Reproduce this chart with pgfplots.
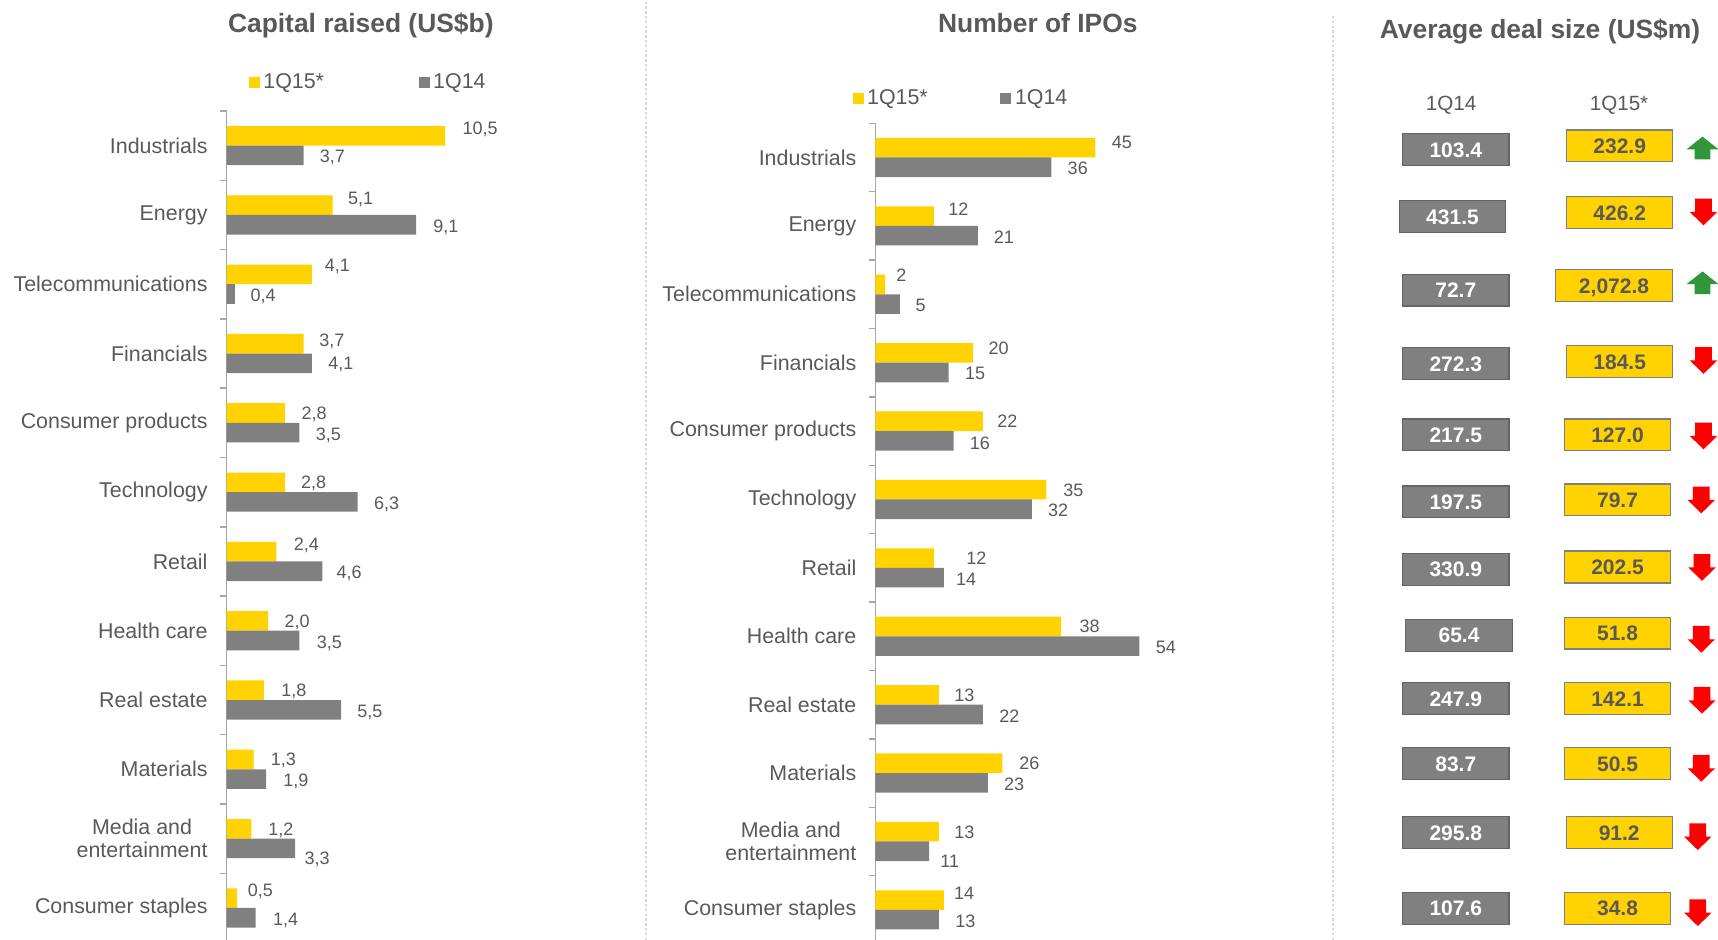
\documentclass[border=0pt]{standalone}
\usepackage{fontspec}
\setmainfont{Liberation Sans}
\usepackage{pgfplots}
\pgfplotsset{compat=1.18}
\usepackage{pgfplotstable}

\definecolor{eyyellow}{RGB}{255,210,0}
\definecolor{eygray}{RGB}{128,128,128}
\definecolor{eygraydark}{RGB}{100,100,100}
\definecolor{eytext}{RGB}{89,89,89}
\definecolor{eyaxis}{RGB}{166,166,166}
\definecolor{eysep}{RGB}{215,215,215}
\definecolor{eygreen}{RGB}{48,150,60}
\definecolor{eyred}{RGB}{255,0,0}

\pgfdeclareplotmark{eydown}{%
 \pgfpathmoveto{\pgfqpoint{-4.2pt}{6.67pt}}%
 \pgfpathlineto{\pgfqpoint{4.2pt}{6.67pt}}%
 \pgfpathlineto{\pgfqpoint{4.2pt}{0pt}}%
 \pgfpathlineto{\pgfqpoint{6.83pt}{0pt}}%
 \pgfpathlineto{\pgfqpoint{0pt}{-6.67pt}}%
 \pgfpathlineto{\pgfqpoint{-6.83pt}{0pt}}%
 \pgfpathlineto{\pgfqpoint{-4.2pt}{0pt}}%
 \pgfpathclose
 \pgfusepathqfill}
\pgfdeclareplotmark{eyup}{%
 \pgfpathmoveto{\pgfqpoint{-3.9pt}{-5.67pt}}%
 \pgfpathlineto{\pgfqpoint{3.9pt}{-5.67pt}}%
 \pgfpathlineto{\pgfqpoint{3.9pt}{-0.67pt}}%
 \pgfpathlineto{\pgfqpoint{8pt}{-0.67pt}}%
 \pgfpathlineto{\pgfqpoint{0pt}{5.67pt}}%
 \pgfpathlineto{\pgfqpoint{-8pt}{-0.67pt}}%
 \pgfpathlineto{\pgfqpoint{-3.9pt}{-0.67pt}}%
 \pgfpathclose
 \pgfusepathqfill}

% Capital raised (US$b): v15 = 1Q15*, v14 = 1Q14; s = label shift (px), g = label gap (px)
\pgfplotstableread{
idx v15 v14 s15 s14 g15 g14
11 10.5 3.7 7.8 -0.3 17 16
10 5.1 9.1 6.7 -1.3 15 17
9 4.1 0.4 9.5 -1.3 12.5 15.5
8 3.7 4.1 4 0 15.5 16
7 2.8 3.5 0 -1.5 16.5 16
6 2.8 6.3 0 -1 16 16
5 2.4 4.6 7.5 -0.5 17 14
4 2.0 3.5 0 -1.3 16 17
3 1.8 5.5 0 -1 17 16
2 1.3 1.9 0 -1.2 17 17
1 1.2 3.3 0 -9.3 16.5 9
0 0.5 1.4 7.7 -1.3 10.5 17
}\capdata

% Number of IPOs
\pgfplotstableread{
idx v15 v14 s15 s14 g15 g14
11 45 36 6 -1 16 16
10 12 21 7 -1.3 14 15.5
9 2 5 9.7 -1 11 15.5
8 20 15 4.7 -1 15 16
7 22 16 0 -1.7 14 16
6 35 32 0 -1 16.5 16
5 12 14 0 -1.3 32 12
4 38 54 0 -1.3 18 16
3 13 22 0 -1.7 15 16
2 26 23 0 -1.5 16.5 16
1 13 11 0 -10 15 11
0 14 13 7 -1.5 10 16
}\ipodata

% Average deal size (US$m): box centres in px
\pgfplotstableread{
gx gy gl yx yy yl yw
1455.8 149.8 103.4 1619.7 146.0 232.9 53
1452.5 216.8 431.5 1619.7 212.7 426.2 53
1455.8 290.2 72.7 1614.0 285.8 2,072.8 58.65
1455.8 363.8 272.3 1619.7 361.7 184.5 53
1455.8 435.0 217.5 1617.5 435.0 127.0 53
1455.8 502.0 197.5 1617.5 500.0 79.7 53
1455.8 569.3 330.9 1617.5 567.0 202.5 53
1459.0 635.3 65.4 1617.5 633.0 51.8 53
1455.8 698.7 247.9 1617.5 698.7 142.1 53
1455.8 763.7 83.7 1617.5 763.7 50.5 53
1455.8 832.7 295.8 1619.2 832.7 91.2 53
1455.8 908.3 107.6 1617.5 908.3 34.8 53
}\dealdata

\pgfplotstableread{
ax ay
1702.5 148.0
1702.5 282.8
}\uparrows

\pgfplotstableread{
ax ay
1703.5 212.0
1703.5 360.5
1703.5 436.0
1701.3 500.0
1702.0 567.5
1701.3 639.3
1702.0 700.3
1701.3 768.3
1697.8 836.7
1697.8 912.7
}\downarrows

\pgfplotsset{
 eybar/.style={
  scale only axis, clip=false,
  axis y line*=left, axis x line=none,
  xtick=\empty,
  xmin=0, ymin=-0.5, ymax=11.5,
  ytick={0,...,11},
  yticklabels={Consumer staples,{Media and\\entertainment},Materials,Real estate,Health care,Retail,Technology,Consumer products,Financials,Telecommunications,Energy,Industrials},
  minor ytick={-0.5,0.5,...,11.5},
  major tick length=0pt, minor tick length=3pt, tick align=outside,
  tick style={eyaxis, line width=0.75pt},
  axis line style={eyaxis, line width=0.75pt},
  yticklabel style={anchor=east, inner sep=0pt, xshift=-9.3pt, align=center,
    font=\fontsize{10.7}{11.7}\selectfont, text=eytext},
  xbar, bar width=9.8pt,
  legend columns=2,
  legend image code/.code={\fill (0pt,-2.75pt) rectangle (5.5pt,2.75pt);},
  legend style={draw=none, fill=none, inner sep=0pt, anchor=west,
    font=\fontsize{10.7}{12}\selectfont, text=eytext, nodes={inner sep=1.8pt}},
  legend cell align=left,
  point meta=x,
  every node near coord/.append style={anchor=base west, inner sep=0pt,
    font=\fontsize{9}{10}\selectfont, text=eytext,
    xshift=\gap*0.5pt, yshift=\shy*0.5pt-3.22pt},
 }
}

\begin{document}
\begin{tikzpicture}
% separators
\draw[eysep, line width=0.6pt, dash pattern=on 1.2pt off 1.2pt] (323pt,0pt) -- (323pt,470pt);
\draw[eysep, line width=0.6pt, dash pattern=on 1.2pt off 1.2pt] (666.5pt,0pt) -- (666.5pt,463pt);

% ---- Capital raised ----
\begin{axis}[eybar, at={(113.25pt,-1.3pt)}, anchor=south west,
  width=145.8pt, height=415.8pt, xmax=14,
  nodes near coords={\pgfmathprintnumber[fixed,fixed zerofill,precision=1,use comma,assume math mode=true]{\pgfplotspointmeta}},
  legend style={at={(0.075,1.0337)}, /tikz/every even column/.append style={column sep=45.5pt}}]
\addplot[fill=eyyellow, draw=none, bar shift=4.9pt,
  visualization depends on={\thisrow{s15}\as\shy},
  visualization depends on={\thisrow{g15}\as\gap}] table[x=v15,y=idx]{\capdata};
\addplot[fill=eygray, draw=none, bar shift=-4.9pt,
  visualization depends on={\thisrow{s14}\as\shy},
  visualization depends on={\thisrow{g14}\as\gap}] table[x=v14,y=idx]{\capdata};
\legend{1Q15*,1Q14}
\end{axis}

% ---- Number of IPOs ----
\begin{axis}[eybar, at={(437.65pt,-2.05pt)}, anchor=south west,
  width=146.7pt, height=410.4pt, xmax=60,
  nodes near coords={\pgfmathprintnumber[fixed,precision=0,assume math mode=true]{\pgfplotspointmeta}},
  legend style={at={(-0.079,1.0296)}, /tikz/every even column/.append style={column sep=34.5pt}}]
\addplot[fill=eyyellow, draw=none, bar shift=4.9pt,
  visualization depends on={\thisrow{s15}\as\shy},
  visualization depends on={\thisrow{g15}\as\gap}] table[x=v15,y=idx]{\ipodata};
\addplot[fill=eygray, draw=none, bar shift=-4.9pt,
  visualization depends on={\thisrow{s14}\as\shy},
  visualization depends on={\thisrow{g14}\as\gap}] table[x=v14,y=idx]{\ipodata};
\legend{1Q15*,1Q14}
\end{axis}

% ---- Average deal size ----
\begin{axis}[at={(666.5pt,0pt)}, anchor=south west, scale only axis,
  width=192.5pt, height=470pt, xmin=1333, xmax=1718, ymin=0, ymax=940,
  y dir=reverse, hide axis, clip=false]
\addplot[draw=none, mark=none, nodes near coords, point meta=explicit symbolic,
  every node near coord/.append style={anchor=center, fill=eygray, draw=eygraydark,
    line width=0.6pt, minimum width=53.15pt, minimum height=15.9pt, inner sep=0pt,
    text height=7.5pt, text depth=0pt, font=\bfseries\fontsize{10.5}{12}\selectfont, text=white}]
  table[x=gx, y=gy, meta=gl]{\dealdata};
\addplot[draw=none, mark=none, nodes near coords, point meta=explicit symbolic,
  visualization depends on={\thisrow{yw}\as\bw},
  every node near coord/.append style={anchor=center, fill=eyyellow, draw=eygray,
    line width=0.6pt, minimum width=\bw*1pt, minimum height=15.9pt, inner sep=0pt,
    text height=7.5pt, text depth=0pt, font=\bfseries\fontsize{10.5}{12}\selectfont, text=eytext}]
  table[x=yx, y=yy, meta=yl]{\dealdata};
\addplot[only marks, mark=eyup, mark options={draw=none, fill=eygreen}] table[x=ax,y=ay]{\uparrows};
\addplot[only marks, mark=eydown, mark options={draw=none, fill=eyred}] table[x=ax,y=ay]{\downarrows};
\node[anchor=base, font=\fontsize{10.3}{12}\selectfont, text=eytext] at (axis cs:1451,110.1) {1Q14};
\node[anchor=base, font=\fontsize{10.3}{12}\selectfont, text=eytext] at (axis cs:1619,110.1) {1Q15*};
\end{axis}

% titles
\node[anchor=base, font=\bfseries\fontsize{13.2}{15}\selectfont, text=eytext] at (180.4pt,453.85pt) {Capital raised (US\$b)};
\node[anchor=base, font=\bfseries\fontsize{13.2}{15}\selectfont, text=eytext] at (518.9pt,453.85pt) {Number of IPOs};
\node[anchor=base, font=\bfseries\fontsize{13.2}{15}\selectfont, text=eytext] at (770pt,450.85pt) {Average deal size (US\$m)};

\pgfresetboundingbox
\useasboundingbox (0pt,0pt) rectangle (859pt,470pt);
\end{tikzpicture}
\end{document}
